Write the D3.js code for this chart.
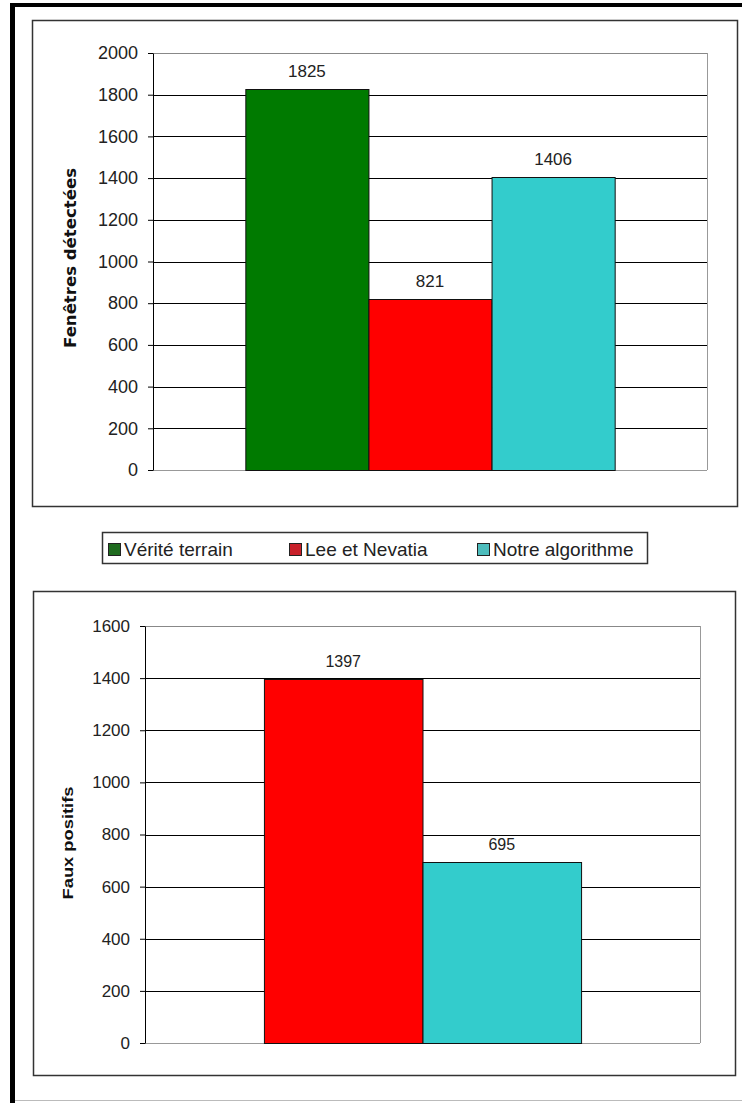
<!DOCTYPE html>
<html>
<head>
<meta charset="utf-8">
<script src="https://cdn.jsdelivr.net/npm/d3@7"></script>
<style>
  body { margin: 0; background: #fff; }
  svg { display: block; font-family: "Liberation Sans", Arial, sans-serif; }
</style>
</head>
<body>
<svg id="chart" width="742" height="1103"></svg>
<script>
// data
const seriesNames = ['Vérité terrain', 'Lee et Nevatia', 'Notre algorithme']
const barColors = ['#007a00', '#ff0000', '#33cccc']
const legendColors = ['#1f6b1f', '#c8202a', '#4dbdbd']
const detectedValues = [1825, 821, 1406]
const falsePosSeries = ['Lee et Nevatia', 'Notre algorithme']
const falsePosValues = [1397, 695]
const detectedTicks = [0, 200, 400, 600, 800, 1000, 1200, 1400, 1600, 1800, 2000]
const falsePosTicks = [0, 200, 400, 600, 800, 1000, 1200, 1400, 1600]

const svg = d3.select('#chart')

// outer frame
svg.append('line').attr('x1', 12.5).attr('x2', 12.5).attr('y1', 3).attr('y2', 1103)
    .attr('stroke', '#000').attr('stroke-width', 5)
svg.append('line').attr('x1', 10).attr('x2', 742).attr('y1', 5).attr('y2', 5)
    .attr('stroke', '#000').attr('stroke-width', 4)
svg.append('line').attr('x1', 15).attr('x2', 742).attr('y1', 1100.5).attr('y2', 1100.5)
    .attr('stroke', '#bbb').attr('stroke-width', 1)

function drawChart(opts){
    const { box, plot, names, values, ticks, max, outer, title, titleStyle, tickFont, labelFont } = opts
    // chart box
    svg.append('rect')
        .attr('x', box.x + 0.5).attr('y', box.y + 0.5)
        .attr('width', box.w).attr('height', box.h)
        .attr('fill', '#fff').attr('stroke', '#333').attr('stroke-width', 1.5)

    const g = svg.append('g').attr('transform', `translate(${plot.x}, ${plot.y})`)
    const width = plot.w, height = plot.h

    const y = d3.scaleLinear().domain([0, max]).range([height, 0])
    const x0 = d3.scaleBand().domain(['all']).range([0, width]).paddingInner(0).paddingOuter(outer)
    const x1 = d3.scaleBand().domain(names).range([0, x0.bandwidth()])
    const color = d3.scaleOrdinal().domain(seriesNames).range(barColors)
    const rows = names.map((n, i) => ({ name: n, value: values[i] }))

    // gridlines
    g.append('g').selectAll('line')
        .data(ticks.filter(t => t > 0))
        .join('line')
        .attr('x1', 0).attr('x2', width)
        .attr('y1', d => Math.round(y(d)) + 0.5).attr('y2', d => Math.round(y(d)) + 0.5)
        .attr('stroke', d => d === max ? '#888' : '#000')
        .attr('stroke-width', 1)
    // right border and floor
    g.append('line').attr('x1', width + 0.5).attr('x2', width + 0.5).attr('y1', y(max)).attr('y2', height)
        .attr('stroke', '#999')
    g.append('line').attr('x1', 0).attr('x2', width).attr('y1', height + 0.5).attr('y2', height + 0.5)
        .attr('stroke', '#999')

    // bars
    const bars = g.append('g').attr('transform', `translate(${x0('all')}, 0)`)
    bars.selectAll('rect')
        .data(rows)
        .join('rect')
        .attr('x', d => x1(d.name) + 0.5)
        .attr('y', d => Math.round(y(d.value)) + 0.5)
        .attr('width', x1.bandwidth())
        .attr('height', d => height - Math.round(y(d.value)))
        .attr('fill', d => color(d.name))
        .attr('stroke', '#111').attr('stroke-width', 1)

    bars.selectAll('text')
        .data(rows)
        .join('text')
        .attr('x', d => x1(d.name) + x1.bandwidth() / 2)
        .attr('y', d => y(d.value) - 12)
        .attr('text-anchor', 'middle')
        .attr('font-size', labelFont)
        .attr('fill', '#222')
        .text(d => d.value)

    // axis
    const yAxis = g.append('g')
        .call(d3.axisLeft(y).tickValues(ticks).tickFormat(d3.format('d'))
            .tickSize(5).tickSizeOuter(0).tickPadding(10))
    yAxis.select('.domain').attr('stroke', '#000')
    yAxis.selectAll('.tick line').attr('stroke', '#000')
    yAxis.selectAll('.tick text')
        .attr('font-size', tickFont)
        .attr('font-family', '"Liberation Sans", Arial, sans-serif')
        .attr('fill', '#222')

    // y title
    svg.append('text')
        .attr('transform', `translate(${title.x}, ${title.y}) rotate(-90)`)
        .attr('text-anchor', 'middle')
        .attr('font-weight', 'bold')
        .attr('font-family', titleStyle.family)
        .attr('font-size', titleStyle.size)
        .attr('textLength', titleStyle.length)
        .attr('lengthAdjust', 'spacingAndGlyphs')
        .attr('fill', '#111')
        .text(title.text)
}

drawChart({
    box: { x: 32, y: 20, w: 705, h: 486 },
    plot: { x: 153, y: 53, w: 554, h: 417 },
    names: seriesNames,
    values: detectedValues,
    ticks: detectedTicks,
    max: 2000,
    outer: 0.25,
    title: { x: 76, y: 258, text: 'Fenêtres détectées' },
    titleStyle: { family: '"DejaVu Sans", Verdana, sans-serif', size: 16, length: 180 },
    tickFont: 18,
    labelFont: 17
})

drawChart({
    box: { x: 33, y: 591, w: 702, h: 484 },
    plot: { x: 145, y: 626, w: 555, h: 417 },
    names: falsePosSeries,
    values: falsePosValues,
    ticks: falsePosTicks,
    max: 1600,
    outer: 0.375,
    title: { x: 73, y: 843, text: 'Faux positifs' },
    titleStyle: { family: '"Liberation Sans Narrow", "Liberation Sans", Arial, sans-serif', size: 15, length: 113 },
    tickFont: 17,
    labelFont: 16
})

// legend
const legend = svg.append('g')
legend.append('rect')
    .attr('x', 102.5).attr('y', 532.5).attr('width', 545).attr('height', 31)
    .attr('fill', '#fff').attr('stroke', '#333').attr('stroke-width', 1.5)
const legendX = d3.scaleOrdinal().domain(seriesNames).range([108, 289, 477])
const item = legend.selectAll('g.item')
    .data(seriesNames)
    .join('g')
    .attr('class', 'item')
    .attr('transform', d => `translate(${legendX(d)}, 543)`)
item.append('rect')
    .attr('x', 0.5).attr('y', 0.5).attr('width', 12).attr('height', 12)
    .attr('fill', (d, i) => legendColors[i]).attr('stroke', '#222')
item.append('text')
    .attr('x', 16).attr('y', 13)
    .attr('font-size', 19)
    .attr('fill', '#222')
    .text(d => d)
</script>
</body>
</html>
